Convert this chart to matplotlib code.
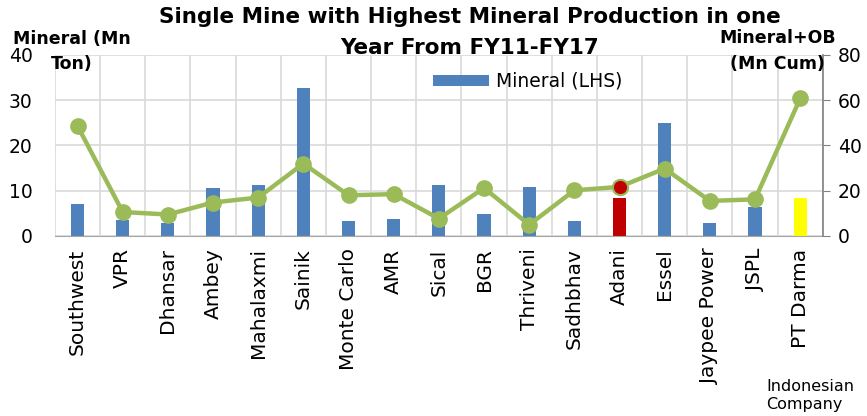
import numpy as np
import matplotlib.pyplot as plt
from matplotlib.ticker import MultipleLocator

mines = ['Southwest', 'VPR', 'Dhansar', 'Ambey', 'Mahalaxmi', 'Sainik', 'Monte Carlo',
         'AMR', 'Sical', 'BGR', 'Thriveni', 'Sadhbhav', 'Adani', 'Essel',
         'Jaypee Power', 'JSPL', 'PT Darma']
mineral = [7.0, 3.5, 2.9, 10.6, 11.2, 32.7, 3.3, 3.7, 11.2, 4.9, 10.8, 3.4, 8.4, 25.0, 2.9, 6.3, 8.4]
mineral_ob = [48.6, 10.6, 9.5, 14.8, 17.0, 32.0, 18.0, 18.5, 7.7, 21.2, 5.0, 20.2, 21.7, 29.8, 15.5, 16.2, 60.8]

blue = '#4F81BD'
green = '#9BBB59'
bar_colors = [blue] * len(mines)
bar_colors[mines.index('Adani')] = '#C00000'
bar_colors[mines.index('PT Darma')] = '#FFFF00'

plt.rcParams['font.family'] = 'DejaVu Sans'

fig = plt.figure(figsize=(8.67, 4.16), dpi=100)
ax = fig.add_axes([0.0634, 0.4327, 0.8856, 0.4351])
x = np.arange(len(mines))

ax.bar(x, mineral, width=0.29, color=bar_colors, label='Mineral (LHS)', zorder=2)
ax.set_xlim(-0.5, len(mines) - 0.5)
ax.set_ylim(0, 40)
ax.yaxis.set_major_locator(MultipleLocator(10))
ax.set_xticks(x)
ax.set_xticklabels(mines, rotation=90, fontsize=14.5)
ax.set_xticks(np.arange(-0.5, len(mines)), minor=True)
ax.tick_params(axis='x', which='both', length=0, pad=9)
ax.tick_params(axis='y', length=0, labelsize=13.5, pad=16)
ax.grid(axis='y', color='#D9D9D9', linewidth=1.2, zorder=0)
ax.grid(axis='x', which='minor', color='#D9D9D9', linewidth=1.2, zorder=0)
for s in ['top', 'right', 'left']:
    ax.spines[s].set_visible(False)
ax.spines['bottom'].set_color('#A6A6A6')
ax.set_axisbelow(True)

ax2 = ax.twinx()
ax2.plot(x, mineral_ob, color=green, linewidth=3.2, marker='o', markersize=11, zorder=3)
adani = mines.index('Adani')
ax2.plot(x[adani], mineral_ob[adani], marker='o', markersize=11, color='#C00000',
         markeredgecolor=green, markeredgewidth=1.5, zorder=4)
ax2.set_ylim(0, 80)
ax2.yaxis.set_major_locator(MultipleLocator(20))
ax2.tick_params(axis='y', direction='out', length=5, color='#808080', labelsize=13.5, pad=6)
for s in ['top', 'left', 'bottom']:
    ax2.spines[s].set_visible(False)
ax2.spines['right'].set_color('#808080')
ax2.spines['right'].set_linewidth(1.2)

# title, two lines placed separately
fig.text(0.542, 1 - 17 / 416, 'Single Mine with Highest Mineral Production in one',
         ha='center', va='center', fontsize=15.5, fontweight='bold')
fig.text(0.542, 1 - 48 / 416, 'Year From FY11-FY17',
         ha='center', va='center', fontsize=15.5, fontweight='bold')

# axis titles
fig.text(0.083, 1 - 39 / 416, 'Mineral (Mn', ha='center', va='center', fontsize=12.5, fontweight='bold')
fig.text(0.083, 1 - 64 / 416, 'Ton)', ha='center', va='center', fontsize=12.5, fontweight='bold')
fig.text(0.897, 1 - 38 / 416, 'Mineral+OB', ha='center', va='center', fontsize=12.5, fontweight='bold')
fig.text(0.897, 1 - 64 / 416, '(Mn Cum)', ha='center', va='center', fontsize=12.5, fontweight='bold')

fig.text(0.884, 0.01, 'Indonesian\nCompany', ha='left', va='bottom', fontsize=11.5)

ax.legend(loc='upper left', bbox_to_anchor=(0.47, 1.0), frameon=False, fontsize=13.5,
          handlelength=3.0, handleheight=0.5, handletextpad=0.4)

fig.savefig('out.png', dpi=100)
